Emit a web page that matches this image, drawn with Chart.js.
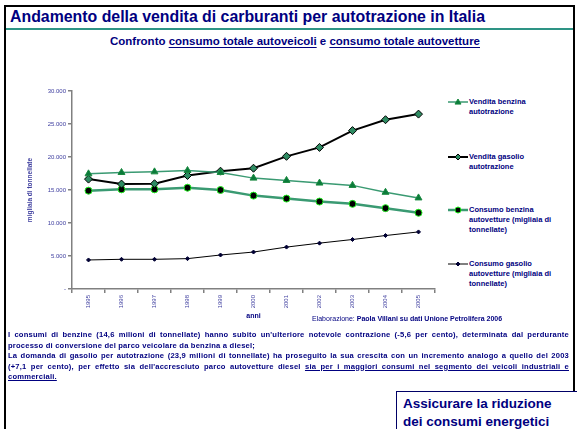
<!DOCTYPE html>
<html>
<head>
<meta charset="utf-8">
<script src="https://cdn.jsdelivr.net/npm/chart.js@4.4.1/dist/chart.umd.min.js"></script>
<style>
  html, body { margin: 0; padding: 0; background: #fff; }
  body { width: 577px; height: 429px; overflow: hidden; position: relative; font-family: "Liberation Sans", Arial, sans-serif; color: #000080; }
  .frame { position: absolute; left: 4px; top: 5px; width: 567px; height: 440px; border: 2px solid #000; }
  .title { position: absolute; left: 10px; top: 8px; font-size: 16px; font-weight: bold; white-space: nowrap; transform-origin: left top; }
  .rule { position: absolute; left: 6px; top: 28px; width: 567px; height: 2px; background: #2e9485; }
  .subtitle { position: absolute; left: 110px; top: 35px; font-size: 11px; font-weight: bold; white-space: nowrap; transform-origin: left top; }
  .subtitle u { text-decoration-thickness: 1px; text-underline-offset: 2px; }
  #chartBox { position: absolute; left: 0; top: 80px; width: 440px; height: 245px; }
  .legend { position: absolute; left: 448px; font-size: 7.5px; font-weight: bold; line-height: 10px; }
  .legend canvas { position: absolute; left: 0; top: 1px; }
  .legend span { display: block; margin-left: 21px; }
  .source { position: absolute; left: 312px; top: 315px; font-size: 7px; white-space: nowrap; }
  .note { position: absolute; left: 8px; top: 330px; width: 561px; font-size: 7.6px; letter-spacing: 0.2px; font-weight: bold; line-height: 10.5px; }
  .note div { text-align: justify; text-align-last: justify; white-space: nowrap; }
  .note div.last { text-align-last: left; }
  .box { position: absolute; left: 396px; top: 391px; width: 200px; height: 60px; border-top: 1.5px solid #000066; border-left: 1.5px solid #000066; background: #fff; }
  .box div { position: absolute; left: 6px; top: 3px; font-size: 13.5px; font-weight: bold; line-height: 18px; white-space: nowrap; }
</style>
</head>
<body>
<div class="frame"></div>
<div class="title" id="title">Andamento della vendita di carburanti per autotrazione in Italia</div>
<div class="rule"></div>
<div class="subtitle" id="subtitle">Confronto <u>consumo totale autoveicoli</u> e <u>consumo totale autovetture</u></div>

<div id="chartBox"><canvas id="fuelChart"></canvas></div>

<div class="legend" style="top:97px"><canvas id="lg0" width="20" height="8"></canvas><span>Vendita benzina<br>autotrazione</span></div>
<div class="legend" style="top:152px"><canvas id="lg1" width="20" height="8"></canvas><span>Vendita gasolio<br>autotrazione</span></div>
<div class="legend" style="top:205px"><canvas id="lg2" width="20" height="8"></canvas><span>Consumo benzina<br>autovetture (migliaia di<br>tonnellate)</span></div>
<div class="legend" style="top:259px"><canvas id="lg3" width="20" height="8"></canvas><span>Consumo gasolio<br>autovetture (migliaia di<br>tonnellate)</span></div>

<div class="source">Elaborazione: <b>Paola Villani su dati Unione Petrolifera 2006</b></div>

<div class="note">
  <div>I consumi di benzine (14,6 milioni di tonnellate) hanno subito un'ulteriore notevole contrazione (-5,6 per cento), determinata dal perdurante</div>
  <div class="last">processo di conversione del parco veicolare da benzina a diesel;</div>
  <div>La domanda di gasolio per autotrazione (23,9 milioni di tonnellate) ha proseguito la sua crescita con un incremento analogo a quello del 2003</div>
  <div>(+7,1 per cento), per effetto sia dell'accresciuto parco autovetture diesel <u>sia per i maggiori consumi nel segmento dei veicoli industriali e</u></div>
  <div class="last"><u>commerciali.</u></div>
</div>

<div class="box"><div>Assicurare la riduzione<br>dei consumi energetici</div></div>

<script>
// ===== Data (migliaia di tonnellate) =====
const years = ["1995", "1996", "1997", "1998", "1999", "2000", "2001", "2002", "2003", "2004", "2005"];
const venditaBenzina = [17450, 17650, 17750, 17950, 17650, 16800, 16450, 16050, 15700, 14650, 13800];
const venditaGasolio = [16650, 15900, 15950, 17200, 17850, 18300, 20100, 21450, 24000, 25650, 26500];
const consumoBenzina = [14900, 15100, 15100, 15350, 15000, 14150, 13700, 13250, 12900, 12250, 11550];
const consumoGasolio = [4400, 4500, 4500, 4600, 5150, 5600, 6350, 6950, 7500, 8100, 8650];
const yMax = 30000;
const yStep = 5000;

// ===== Series styles =====
const styles = [
  { line: "#3a9a72", width: 1.5, point: "triangle", fill: "#0a7a3a", border: "#1a8a40", radius: 4 },
  { line: "#000000", width: 2, point: "rectRot", fill: "#2e8b62", border: "#000000", radius: 4 },
  { line: "#3a9a72", width: 2.5, point: "circle", fill: "#000000", border: "#22ee22", radius: 3.5 },
  { line: "#000000", width: 1, point: "rectRot", fill: "#000033", border: "#000033", radius: 2 }
];

// fit title widths to the reference
function fitWidth(id, target) {
  const el = document.getElementById(id);
  const w = el.getBoundingClientRect().width;
  el.style.transform = "scaleX(" + (target / w) + ")";
}
fitWidth("title", 475);
fitWidth("subtitle", 370);

function fmt(v) {
  if (v === 0) return "-";
  return String(v).replace(/\B(?=(\d{3})+(?!\d))/g, ".");
}

Chart.defaults.font.family = '"Liberation Sans", Arial, sans-serif';

const seriesData = [venditaBenzina, venditaGasolio, consumoBenzina, consumoGasolio];
const seriesNames = ["Vendita benzina autotrazione", "Vendita gasolio autotrazione", "Consumo benzina autovetture", "Consumo gasolio autovetture"];

const ctx = document.getElementById("fuelChart").getContext("2d");
new Chart(ctx, {
  type: "line",
  data: {
    labels: years,
    datasets: seriesData.map((d, i) => ({
      label: seriesNames[i],
      data: d,
      borderColor: styles[i].line,
      borderWidth: styles[i].width,
      pointStyle: styles[i].point,
      pointBackgroundColor: styles[i].fill,
      pointBorderColor: styles[i].border,
      pointBorderWidth: 1,
      pointRadius: styles[i].radius,
      tension: 0,
      fill: false
    }))
  },
  options: {
    responsive: true,
    maintainAspectRatio: false,
    animation: false,
    layout: { padding: { top: 11, right: 4, left: 0, bottom: 0 } },
    plugins: { legend: { display: false }, tooltip: { enabled: false } },
    scales: {
      x: {
        offset: true,
        grid: { display: true, drawOnChartArea: false, offset: true, tickLength: 4, color: "#808080", lineWidth: 1.5 },
        border: { color: "#808080", width: 1.5 },
        ticks: { minRotation: 90, maxRotation: 90, padding: 2, color: "#4040a0", font: { size: 6 } },
        title: { display: true, text: "anni", color: "#000080", font: { size: 7, weight: "bold" }, padding: { top: 0, bottom: 5 } },
        afterFit: (scale) => { scale.height = 36; }
      },
      y: {
        min: 0,
        max: yMax,
        grid: { display: true, drawOnChartArea: false, tickLength: 4, color: "#808080", lineWidth: 1.5 },
        border: { color: "#808080", width: 1.5 },
        ticks: { stepSize: yStep, padding: 2, color: "#4040a0", font: { size: 6 }, callback: (v) => fmt(v) },
        title: { display: true, text: "migliaia di tonnellate", color: "#4040a0", font: { size: 6.5, weight: "bold" }, padding: { top: 26, bottom: 0 } },
        afterFit: (scale) => { scale.width = 72; }
      }
    }
  }
});

// ===== Legend swatches =====
styles.forEach((s, i) => {
  const c = document.getElementById("lg" + i).getContext("2d");
  c.strokeStyle = s.line;
  c.lineWidth = s.width;
  c.beginPath();
  c.moveTo(0, 4);
  c.lineTo(20, 4);
  c.stroke();
  c.fillStyle = s.fill;
  c.strokeStyle = s.border;
  c.lineWidth = 1;
  c.beginPath();
  const r = Math.min(s.radius, 3);
  if (s.point === "triangle") {
    c.moveTo(10, 4 - r); c.lineTo(10 + r, 4 + r * 0.7); c.lineTo(10 - r, 4 + r * 0.7); c.closePath();
  } else if (s.point === "rectRot") {
    c.moveTo(10, 4 - r); c.lineTo(10 + r, 4); c.lineTo(10, 4 + r); c.lineTo(10 - r, 4); c.closePath();
  } else {
    c.arc(10, 4, r, 0, Math.PI * 2);
  }
  c.fill();
  c.stroke();
});
</script>
</body>
</html>
